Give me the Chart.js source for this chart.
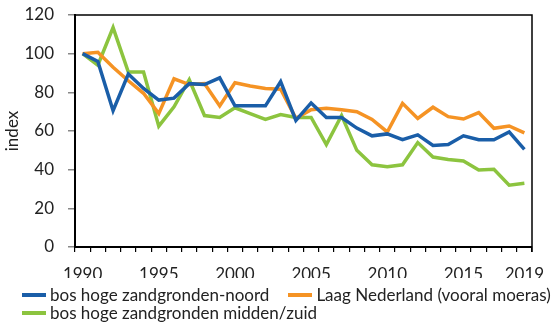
<!DOCTYPE html>
<html>
<head>
<meta charset="utf-8">
<script src="https://cdn.jsdelivr.net/npm/chart.js@4/dist/chart.umd.min.js"></script>
<style>
  body { margin: 0; background: #fff; }
  #wrap { position: relative; width: 552px; height: 328px; }
  #legend {
    position: absolute; left: 22px; top: 286px; width: 530px;
    display: flex; flex-wrap: wrap; column-gap: 19px;
    font-family: Lato, sans-serif; font-size: 17px; line-height: 18px; color: #222;
  }
  .item { display: flex; align-items: center; white-space: nowrap; }
  .swatch { width: 24px; height: 3.5px; margin-right: 4px; }
</style>
</head>
<body>
<div id="wrap">
  <canvas id="chart" width="552" height="328"></canvas>
  <div id="legend"></div>
</div>
<script>
const years = [];
for (let y = 1990; y <= 2019; y++) years.push(String(y));

const noord = [100, 96, 70.5, 89.5, 82, 76, 77, 84.5, 84, 87.5,
  73, 73, 73, 85.5, 65.5, 74.5, 67, 67, 61.5, 57.5,
  58.5, 55.5, 58, 52.5, 53, 57.5, 55.5, 55.5, 59.5, 50.5];
const laagNederland = [100, 100.7, 93, 86, 79.5, 69, 87, 84, 84.5, 73,
  85, 83.3, 82, 81.6, 66.5, 71, 71.7, 71, 70, 66,
  59.5, 74.3, 66.5, 72.3, 67.4, 66.2, 69.5, 61.4, 62.6, 59];
const middenZuid = [100, 94, 113.5, 90.5, 90.5, 62.5, 72.5, 86.5, 68, 67,
  72, 69, 66, 68.5, 67, 67, 53, 68, 50, 42.5,
  41.5, 42.5, 54, 46.5, 45.3, 44.5, 39.8, 40.2, 32, 33];

const seriesNames = [
  'bos hoge zandgronden-noord',
  'Laag Nederland (vooral moeras)',
  'bos hoge zandgronden midden/zuid'
];
const seriesColors = ['#1a5ea8', '#f59324', '#8cc43f'];

const font = { family: 'Lato, sans-serif', size: 17 };

function series(i, data) {
  return {
    label: seriesNames[i],
    data: data,
    borderColor: seriesColors[i],
    backgroundColor: seriesColors[i],
    borderWidth: 3.5,
    pointRadius: 0,
    tension: 0
  };
}

// top and right edges of the plot box
const frame = {
  id: 'plotFrame',
  afterDraw(chart) {
    const a = chart.chartArea, ctx = chart.ctx;
    ctx.save();
    ctx.strokeStyle = '#000';
    ctx.lineWidth = 1.5;
    ctx.beginPath();
    ctx.moveTo(a.left, a.top);
    ctx.lineTo(a.right, a.top);
    ctx.lineTo(a.right, a.bottom + 5);
    ctx.stroke();
    ctx.restore();
  }
};

const chart = new Chart(document.getElementById('chart'), {
  type: 'line',
  data: {
    labels: years,
    datasets: [series(0, noord), series(1, laagNederland), series(2, middenZuid)]
  },
  options: {
    responsive: false,
    animation: false,
    layout: { padding: { top: 15, right: 20, bottom: 50, left: 0 } },
    plugins: { legend: { display: false }, tooltip: { enabled: false } },
    scales: {
      x: {
        offset: true,
        grid: { offset: true, drawOnChartArea: false, tickLength: 5, color: '#000', lineWidth: 1.2 },
        border: { color: '#000', width: 2 },
        ticks: {
          autoSkip: false, maxRotation: 0, padding: 12, color: '#222', font: font,
          // label every fifth year plus the last one
          callback: function(v, i) {
            const y = Number(years[i]);
            return (y % 5 === 0 || i === years.length - 1) ? years[i] : '';
          }
        },
        afterFit(s) { s.height = 31; s.paddingLeft = 0; s.paddingRight = 0; }
      },
      y: {
        min: 0, max: 120,
        ticks: { stepSize: 20, padding: 14, color: '#222', font: font },
        grid: { drawOnChartArea: false, tickLength: 7, color: '#888', lineWidth: 1.5 },
        border: { color: '#000', width: 2 },
        title: { display: true, text: 'index', color: '#222', font: font, padding: { top: 2, bottom: 0 } },
        afterFit(s) { s.width = 75; s.paddingTop = 0; s.paddingBottom = 0; }
      }
    }
  },
  plugins: [frame]
});

// legend below the chart, built from the datasets
const legend = document.getElementById('legend');
chart.data.datasets.forEach(ds => {
  const item = document.createElement('div');
  item.className = 'item';
  const sw = document.createElement('span');
  sw.className = 'swatch';
  sw.style.background = ds.borderColor;
  const txt = document.createElement('span');
  txt.textContent = ds.label;
  item.appendChild(sw);
  item.appendChild(txt);
  legend.appendChild(item);
});
</script>
</body>
</html>
